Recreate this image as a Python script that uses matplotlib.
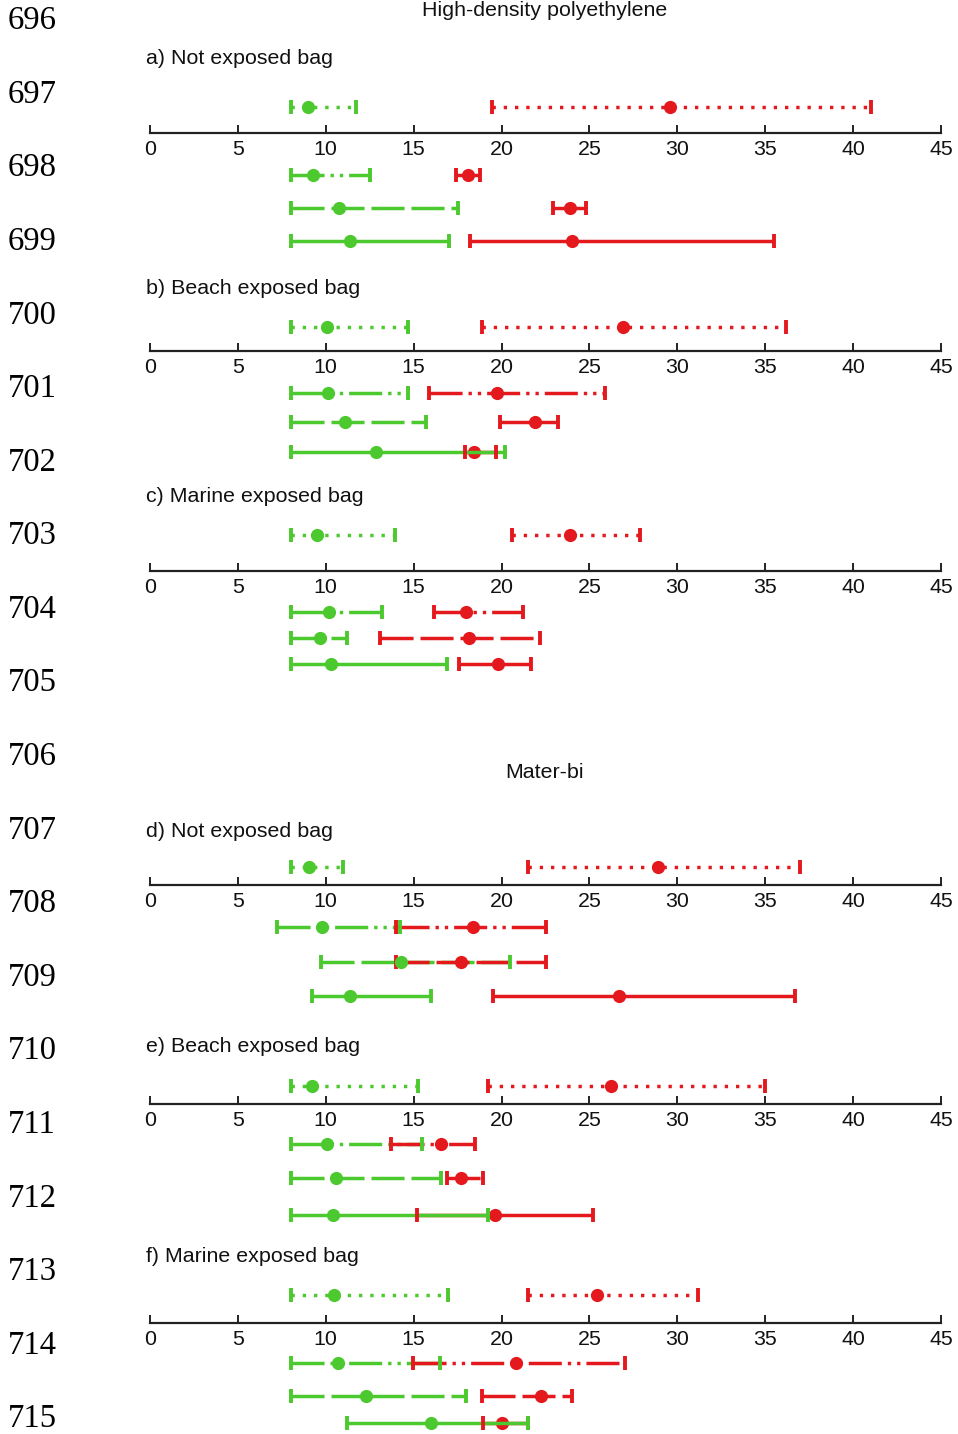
import matplotlib
matplotlib.use('Agg')
import matplotlib.pyplot as plt

plt.rcParams['lines.scale_dashes'] = False

W, H = 958, 1434
GREEN = '#4cc92e'
RED = '#e3191e'
AXIS_COLOR = '#222222'

# ---------------- data ----------------
hdpe_title = 'High-density polyethylene'
materbi_title = 'Mater-bi'
panel_titles = ['a) Not exposed bag', 'b) Beach exposed bag', 'c) Marine exposed bag',
                'd) Not exposed bag', 'e) Beach exposed bag', 'f) Marine exposed bag']
tick_values = [0, 5, 10, 15, 20, 25, 30, 35, 40, 45]
tick_labels = ['0', '5', '10', '15', '20', '25', '30', '35', '40', '45']
line_numbers = ['696', '697', '698', '699', '700', '701', '702', '703', '704', '705',
                '706', '707', '708', '709', '710', '711', '712', '713', '714', '715']

# each row: (low, mean, high); rows: dotted, dash-dot-dot, dashed, solid
a_green = [(8.0, 9.0, 11.7), (8.0, 9.3, 12.5), (8.0, 10.75, 17.5), (8.0, 11.4, 17.0)]
a_red = [(19.45, 29.6, 41.0), (17.4, 18.1, 18.8), (22.9, 23.9, 24.8), (18.2, 24.0, 35.5)]

b_green = [(8.0, 10.05, 14.7), (8.0, 10.1, 14.7), (8.0, 11.1, 15.7), (8.0, 12.85, 20.2)]
b_red = [(18.9, 26.9, 36.2), (15.9, 19.75, 25.9), (19.9, 21.9, 23.2), (17.9, 18.45, 19.7)]

c_green = [(8.0, 9.5, 13.95), (8.0, 10.2, 13.2), (8.0, 9.67, 11.2), (8.0, 10.3, 16.9)]
c_red = [(20.6, 23.9, 27.9), (16.15, 18.0, 21.2), (13.1, 18.15, 22.2), (17.6, 19.8, 21.7)]

d_green = [(8.0, 9.05, 11.0), (7.2, 9.77, 14.2), (9.73, 14.3, 20.5), (9.2, 11.4, 16.0)]
d_red = [(21.5, 28.9, 37.0), (14.0, 18.4, 22.5), (14.0, 17.7, 22.5), (19.5, 26.7, 36.7)]

e_green = [(8.0, 9.2, 15.25), (8.0, 10.05, 15.5), (8.0, 10.6, 16.55), (8.0, 10.4, 19.25)]
e_red = [(19.25, 26.25, 35.0), (13.7, 16.55, 18.5), (16.9, 17.7, 18.95), (15.2, 19.65, 25.2)]

f_green = [(8.0, 10.47, 16.97), (8.0, 10.7, 16.5), (8.0, 12.3, 18.0), (11.2, 16.0, 21.5)]
f_red = [(21.5, 25.45, 31.2), (14.95, 20.8, 27.0), (18.9, 22.25, 24.0), (18.95, 20.05, 21.5)]

panels = [(a_green, a_red), (b_green, b_red), (c_green, c_red),
          (d_green, d_red), (e_green, e_red), (f_green, f_red)]

# ---------------- layout (pixels) ----------------
AX_LEFT, AX_RIGHT = 150, 941
axis_y = [132.7, 351, 570.7, 885, 1104, 1322.7]
row_y = [[107.3, 175, 208.3, 241],
         [326.7, 392.7, 421.7, 451.7],
         [535, 611.7, 637.7, 664],
         [867.3, 926.7, 961.7, 995.7],
         [1085.7, 1144, 1178.3, 1215],
         [1295, 1363.3, 1395.7, 1422.7]]
title_pos = [(146, 58), (146, 289), (146, 497), (146, 831), (146, 1047), (146, 1257)]
row_styles = [(0, (2.4, 5.7)),
              (0, (23.8, 4.3, 2.4, 4.3, 2.4, 4.3)),
              (0, (23.8, 5.0)),
              '-']

LW = 2.5
FONT = 'Liberation Sans'
FS = 15.4

fig = plt.figure(figsize=(W / 100, H / 100), dpi=100)


def fx(px):
    return px / W


def fy(py):
    return 1 - py / H


def draw_range(ax, vals, y, color, ls, zline, zmark):
    lo, mean, hi = vals
    ax.plot([lo, hi], [y, y], color=color, lw=LW, ls=ls,
            solid_capstyle='butt', dash_capstyle='butt', zorder=zline)
    ax.plot([lo, hi], [y, y], ls='none', marker='|', ms=10, mew=2.8,
            color=color, zorder=4)
    ax.plot([mean], [y], ls='none', marker='o', ms=9.5, mew=0,
            color=color, zorder=zmark)


for i, (greens, reds) in enumerate(panels):
    top = min(row_y[i]) - 15
    bot = min(max(row_y[i]) + 15, H)
    ax = fig.add_axes([fx(AX_LEFT), fy(bot), fx(AX_RIGHT - AX_LEFT), (bot - top) / H])
    ax.set_xlim(tick_values[0], tick_values[-1])
    ax.set_ylim(bot, top)
    ax.patch.set_visible(False)
    for s in ['top', 'left', 'right']:
        ax.spines[s].set_visible(False)
    ax.spines['bottom'].set_position(('data', axis_y[i]))
    ax.spines['bottom'].set_linewidth(1.6)
    ax.spines['bottom'].set_color(AXIS_COLOR)
    ax.set_yticks([])
    ax.set_xticks(tick_values)
    ax.set_xticklabels(tick_labels, fontsize=FS, family=FONT)
    ax.tick_params(axis='x', direction='in', length=6, width=1.4, color=AXIS_COLOR,
                   pad=5, labelcolor='#111111')
    for r in range(4):
        y = row_y[i][r]
        ls = row_styles[r]
        if r == 3:
            draw_range(ax, reds[r], y, RED, ls, 2, 2.5)
            draw_range(ax, greens[r], y, GREEN, ls, 3, 5)
        else:
            draw_range(ax, greens[r], y, GREEN, ls, 2, 5)
            draw_range(ax, reds[r], y, RED, ls, 3, 5)
    tx, ty = title_pos[i]
    fig.text(fx(tx), fy(ty), panel_titles[i], ha='left', va='center',
             fontsize=FS, family=FONT, color='#111111')

fig.text(fx(545), fy(11), hdpe_title, ha='center', va='center', fontsize=FS,
         family=FONT, color='#111111')
fig.text(fx(545), fy(772), materbi_title, ha='center', va='center', fontsize=FS,
         family=FONT, color='#111111')

for k, lab in enumerate(line_numbers):
    fig.text(fx(8), fy(21 + k * 73.58), lab, ha='left', va='center',
             fontsize=23.5, family='Liberation Serif', color='#000000')

fig.savefig('out.png', dpi=100)
